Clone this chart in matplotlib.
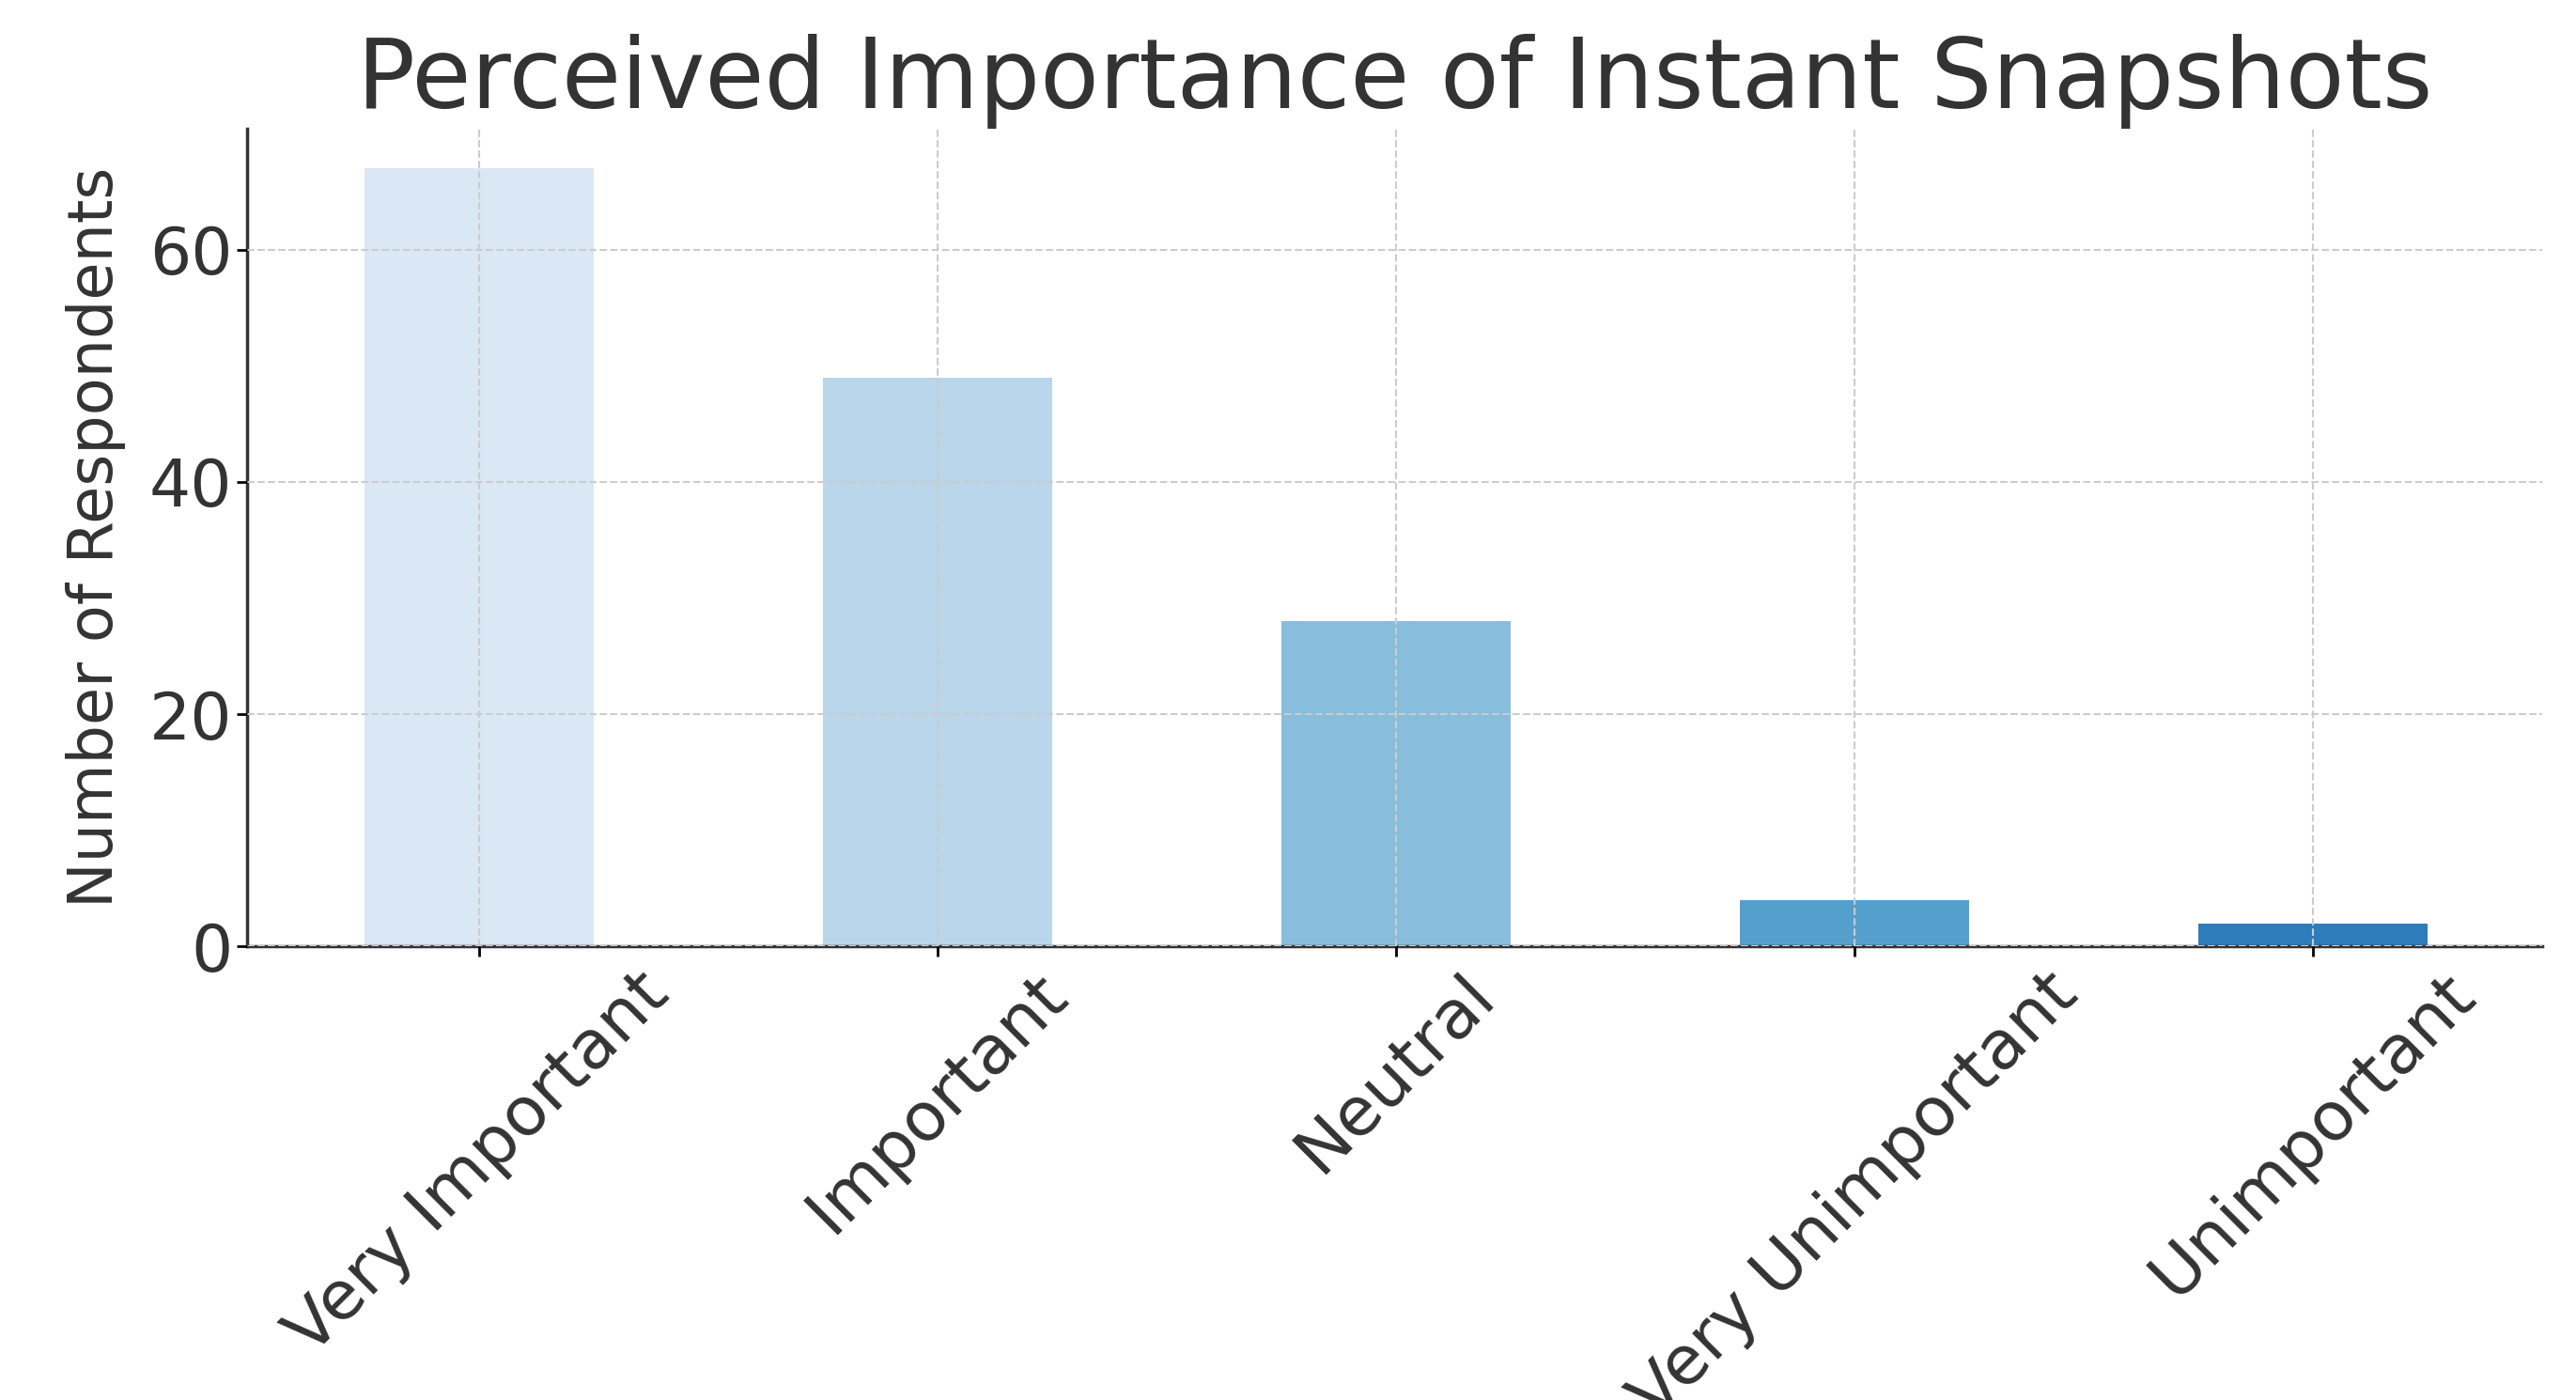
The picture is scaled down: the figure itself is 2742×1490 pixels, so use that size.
import matplotlib
matplotlib.use("Agg")
import matplotlib.pyplot as plt

categories = ["Very Important", "Important", "Neutral", "Very Unimportant", "Unimportant"]
values = [67, 49, 28, 4, 2]
colors = ["#dae8f5", "#b9d6ea", "#88bedc", "#559fcd", "#2f7cba"]

fig = plt.figure(figsize=(27.42, 14.90), dpi=100)
ax = fig.add_axes([0.096, 0.324, 0.891, 0.584])
x = range(len(categories))
ax.bar(x, values, width=0.5, color=colors, zorder=1)
ax.set_xlim(-0.505, 4.5)
ax.set_ylim(0, 70.4)
ax.set_yticks([0, 20, 40, 60])
ax.set_xticks(list(x))
ax.set_xticklabels(categories, rotation=45, fontsize=52, color="#333333")
ax.tick_params(axis="y", labelsize=50, labelcolor="#333333", length=8, width=2)
ax.tick_params(axis="x", length=8, width=2)
ax.grid(True, linestyle="--", color="#cccccc", linewidth=1.5, zorder=2)
ax.set_axisbelow(False)
for s in ["top", "right"]:
    ax.spines[s].set_visible(False)
for s in ["left", "bottom"]:
    ax.spines[s].set_linewidth(2.5)
    ax.spines[s].set_color("#333333")
ax.set_ylabel("Number of Respondents", fontsize=47, color="#333333", labelpad=18)
ax.set_title("Perceived Importance of Instant Snapshots", fontsize=74, color="#333333", pad=14)
fig.savefig("out.png", dpi=100)
